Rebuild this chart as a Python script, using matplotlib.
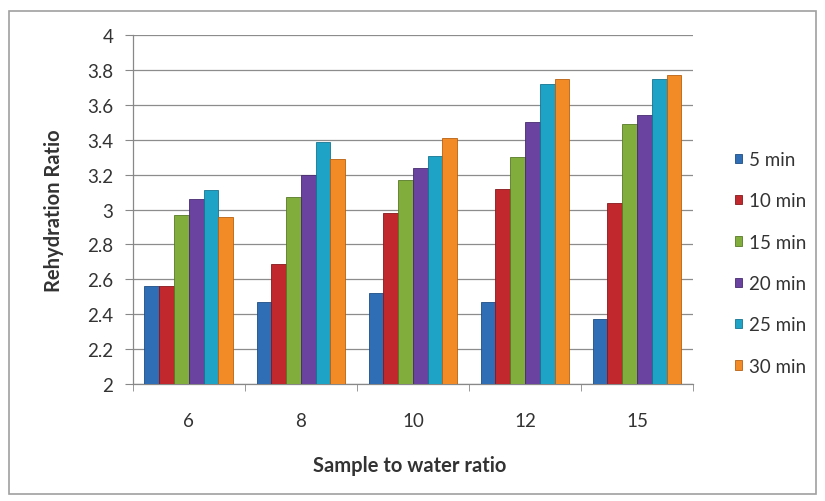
import numpy as np
import matplotlib.pyplot as plt
from matplotlib.patches import Rectangle, Patch

plt.rcParams['font.family'] = ['Lato', 'DejaVu Sans']

# rehydration ratio by sample-to-water ratio, one series per soaking time
ratios = ['6', '8', '10', '12', '15']
series = ['5 min', '10 min', '15 min', '20 min', '25 min', '30 min']
min5 = [2.56, 2.47, 2.52, 2.47, 2.37]
min10 = [2.56, 2.69, 2.98, 3.12, 3.04]
min15 = [2.97, 3.07, 3.17, 3.30, 3.49]
min20 = [3.06, 3.20, 3.24, 3.50, 3.54]
min25 = [3.11, 3.39, 3.31, 3.72, 3.75]
min30 = [2.96, 3.29, 3.41, 3.75, 3.77]
values = [min5, min10, min15, min20, min25, min30]

colors = ['#2f6db5', '#c0282e', '#80ad3c', '#6a43a0', '#1ea2c6', '#f28a26']
edges = ['#1d4c85', '#86181c', '#567a25', '#472a70', '#137491', '#b86010']

fig = plt.figure(figsize=(8.25, 5.02), dpi=100)
ax = fig.add_axes([0.161, 0.233, 0.679, 0.695])

x = np.arange(len(ratios))
w = 0.132
for i, (vals, c, ec) in enumerate(zip(values, colors, edges)):
    off = (i - 2.5) * w
    ax.bar(x + off, np.array(vals) - 2, width=w, bottom=2, color=c,
           edgecolor=ec, linewidth=0.6, zorder=3)

ax.set_xlim(-0.5, len(ratios) - 0.5)
ax.set_ylim(2, 4)
ax.set_yticks(np.arange(2, 4.01, 0.2))
ax.set_yticklabels(['2', '2.2', '2.4', '2.6', '2.8', '3', '3.2', '3.4', '3.6', '3.8', '4'])
ax.set_xticks(x)
ax.set_xticklabels(ratios)
ax.set_xticks(np.arange(-0.5, len(ratios)), minor=True)
ax.tick_params(axis='x', which='major', length=0, pad=20, labelsize=13.5, colors='#333333')
ax.tick_params(axis='x', which='minor', length=5, color='#888888')
ax.tick_params(axis='y', length=6, color='#888888', pad=8, labelsize=13.5, labelcolor='#333333')

ax.grid(axis='y', color='#8c8c8c', linewidth=0.9, zorder=0)
for s in ['top', 'right']:
    ax.spines[s].set_visible(False)
for s in ['left', 'bottom']:
    ax.spines[s].set_color('#888888')
    ax.spines[s].set_linewidth(0.9)

fig.text(0.065, 0.58, 'Rehydration Ratio', rotation=90, ha='center', va='center',
         fontsize=14.5, fontweight='bold', color='#333333')
fig.text(0.496, 0.072, 'Sample to water ratio', ha='center', va='center',
         fontsize=14.5, fontweight='bold', color='#333333')

handles = [Patch(facecolor=c, edgecolor=ec, linewidth=0.6) for c, ec in zip(colors, edges)]
fig.legend(handles, series, loc='upper left', bbox_to_anchor=(0.879, 0.716),
           frameon=False, borderpad=0, handlelength=0.4, handleheight=0.4,
           handletextpad=0.35, labelspacing=1.3, fontsize=13.5, labelcolor='#333333')

# outer chart border
fig.patches.append(Rectangle((0.011, 0.014), 0.978, 0.962, transform=fig.transFigure,
                             fill=False, edgecolor='#a0a0a0', linewidth=1.2))

fig.savefig('out.png', dpi=100)
